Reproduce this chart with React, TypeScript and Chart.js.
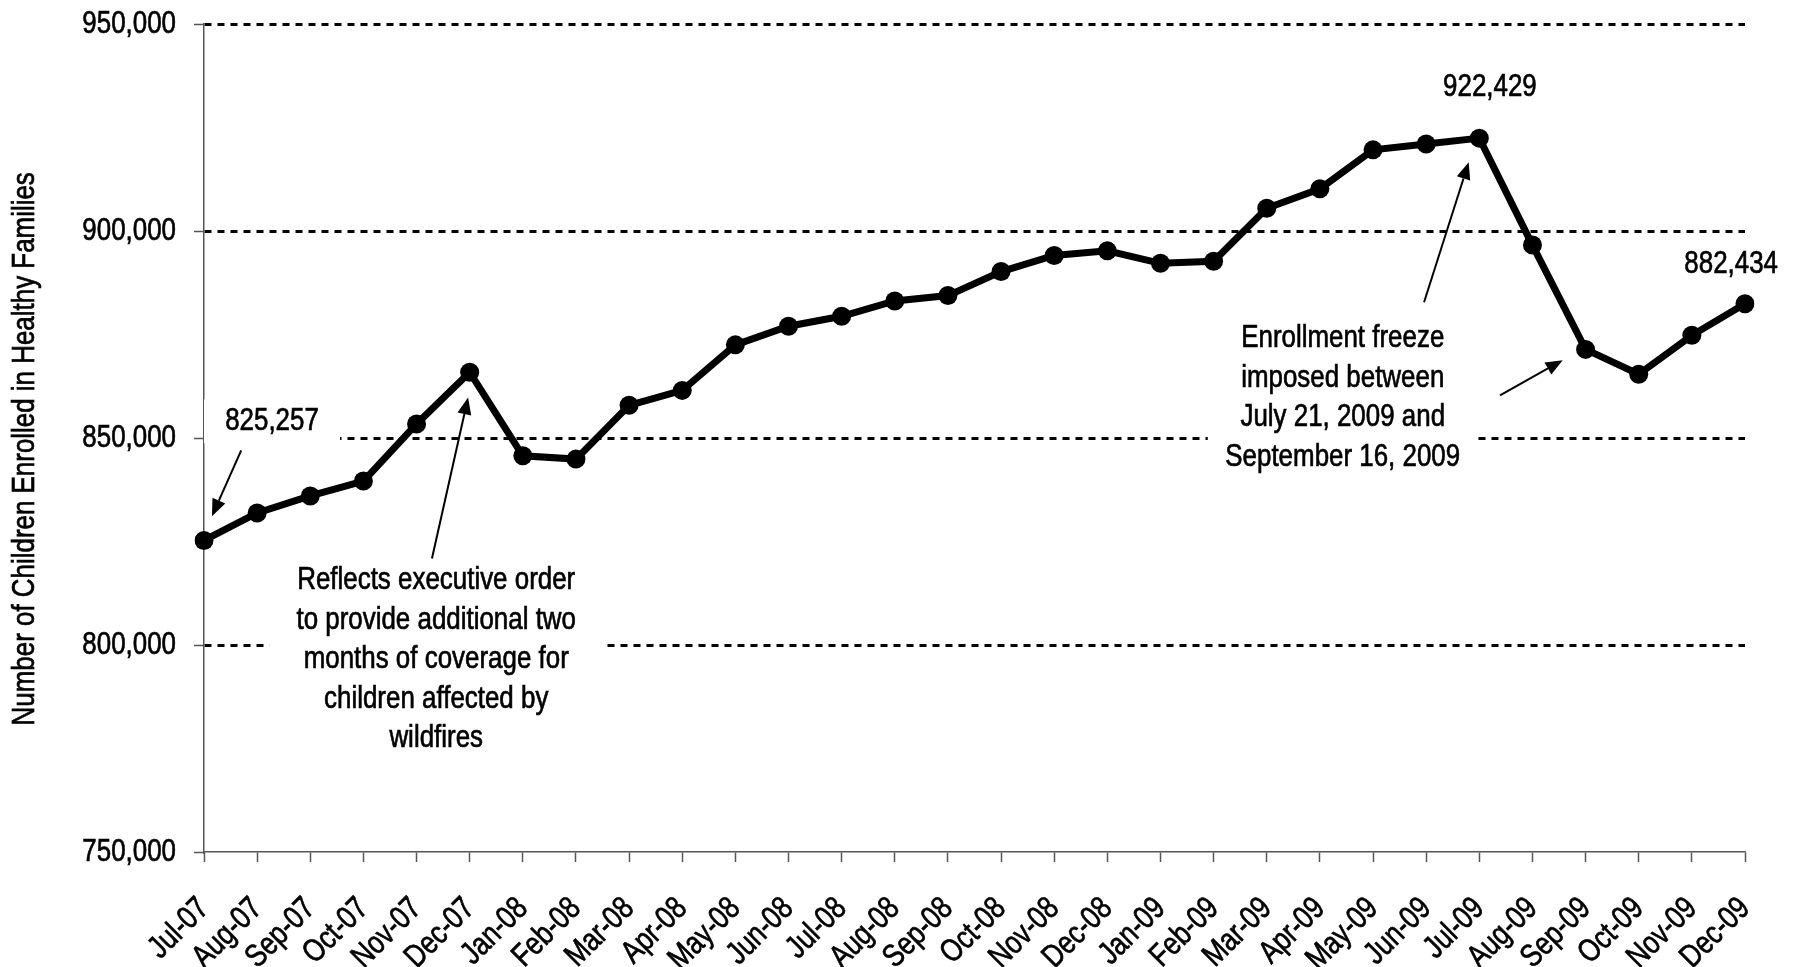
import React, { useEffect, useRef } from "react";
import { Chart, registerables } from "chart.js";

Chart.register(...registerables);

const months: string[] = [
  "Jul-07", "Aug-07", "Sep-07", "Oct-07", "Nov-07", "Dec-07",
  "Jan-08", "Feb-08", "Mar-08", "Apr-08", "May-08", "Jun-08",
  "Jul-08", "Aug-08", "Sep-08", "Oct-08", "Nov-08", "Dec-08",
  "Jan-09", "Feb-09", "Mar-09", "Apr-09", "May-09", "Jun-09",
  "Jul-09", "Aug-09", "Sep-09", "Oct-09", "Nov-09", "Dec-09",
];

const enrollment: number[] = [
  825257, 831900, 836000, 839600, 853400, 865900,
  845700, 844900, 857900, 861500, 872500, 877000,
  879400, 883100, 884400, 890200, 894100, 895200,
  892200, 892700, 905500, 910200, 919600, 921000,
  922429, 896600, 871400, 865400, 874800, 882434,
];

const yTicks: number[] = [750000, 800000, 850000, 900000, 950000];
const yTitle = "Number of Children Enrolled in Healthy Families   ";

// annotation texts, anchored in data space (category index, value)
const valueLabels = [
  { text: "825,257", idx: 1.28, value: 854000, boxW: 136 },
  { text: "922,429", idx: 24.2, value: 934800, boxW: 0 },
  { text: "882,434", idx: 28.74, value: 892000, boxW: 0 },
];

const noteBlocks = [
  {
    lines: [
      "Reflects executive order",
      "to provide additional two",
      "months of coverage for",
      "children affected by",
      "wildfires",
    ],
    idx: 4.37,
    value: 815600,
    boxW: 334,
  },
  {
    lines: [
      "Enrollment freeze",
      "imposed between",
      "July 21, 2009 and",
      "September 16, 2009",
    ],
    idx: 21.43,
    value: 874100,
    boxW: 270,
  },
];

const arrows = [
  { fromIdx: 0.7, fromValue: 847000, toIdx: 0.15, toValue: 831100 },
  { fromIdx: 4.29, fromValue: 820900, toIdx: 4.97, toValue: 859800 },
  { fromIdx: 22.96, fromValue: 882800, toIdx: 23.8, toValue: 916600 },
  { fromIdx: 24.39, fromValue: 860300, toIdx: 25.57, toValue: 868800 },
];

const FONT = "'Liberation Sans', Arial, sans-serif";
const NARROW = 0.81; // horizontal condensing of all text
const TEXT_SIZE = 32;
const LINE_H = 39.5;

const annotationPlugin = {
  id: "notes",
  beforeDatasetsDraw(chart: any) {
    const { ctx, scales } = chart;
    const xs = scales.x;
    const ys = scales.y;
    const px = (i: number) => xs.left + (xs.right - xs.left) * (i / (months.length - 1));
    ctx.save();
    ctx.font = `${TEXT_SIZE}px ${FONT}`;
    ctx.textAlign = "center";
    ctx.textBaseline = "middle";

    // white boxes behind text blocks (hide grid lines)
    for (const b of noteBlocks) {
      const cx = px(b.idx);
      const y0 = ys.getPixelForValue(b.value);
      ctx.fillStyle = "#fff";
      ctx.fillRect(cx - b.boxW / 2, y0 - LINE_H / 2 - 4, b.boxW, LINE_H * b.lines.length + 8);
    }
    for (const l of valueLabels) {
      if (!l.boxW) continue;
      const cx = px(l.idx);
      const cy = ys.getPixelForValue(l.value);
      ctx.fillStyle = "#fff";
      ctx.fillRect(cx - l.boxW / 2, cy - 22, l.boxW, 44);
    }

    ctx.fillStyle = "#000";
    for (const b of noteBlocks) {
      const cx = px(b.idx);
      const y0 = ys.getPixelForValue(b.value);
      b.lines.forEach((t, i) => ctx.fillText(t, cx, y0 + i * LINE_H));
    }
    for (const l of valueLabels) {
      ctx.fillText(l.text, px(l.idx), ys.getPixelForValue(l.value));
    }

    // arrows
    ctx.strokeStyle = "#000";
    ctx.lineWidth = 2;
    for (const a of arrows) {
      const x1 = px(a.fromIdx);
      const y1 = ys.getPixelForValue(a.fromValue);
      const x2 = px(a.toIdx);
      const y2 = ys.getPixelForValue(a.toValue);
      const ang = Math.atan2(y2 - y1, x2 - x1);
      const headLen = 17;
      const headW = 7;
      const bx = x2 - headLen * Math.cos(ang);
      const by = y2 - headLen * Math.sin(ang);
      ctx.beginPath();
      ctx.moveTo(x1, y1);
      ctx.lineTo(bx, by);
      ctx.stroke();
      ctx.beginPath();
      ctx.moveTo(x2, y2);
      ctx.lineTo(bx + headW * Math.sin(ang), by - headW * Math.cos(ang));
      ctx.lineTo(bx - headW * Math.sin(ang), by + headW * Math.cos(ang));
      ctx.closePath();
      ctx.fill();
    }
    ctx.restore();
  },
};

export default function App() {
  const ref = useRef<HTMLCanvasElement | null>(null);

  useEffect(() => {
    const canvas = ref.current;
    if (!canvas) return;
    const c2d = canvas.getContext("2d") as any;
    const origFill = c2d.fillText;
    const origStroke = c2d.strokeText;
    // draw every text condensed horizontally (Helvetica Condensed-like look)
    c2d.fillText = function (text: string, x: number, y: number) {
      this.save();
      this.translate(x, y);
      this.scale(NARROW, 1);
      origFill.call(this, text, 0, 0);
      this.strokeStyle = this.fillStyle;
      this.lineWidth = 0.7;
      this.setLineDash([]);
      origStroke.call(this, text, 0, 0);
      this.restore();
    };
    Chart.defaults.font.family = FONT;
    Chart.defaults.color = "#000";
    const chart = new Chart(canvas, {
      type: "line",
      data: {
        labels: months,
        datasets: [
          {
            data: enrollment,
            borderColor: "#000",
            backgroundColor: "#000",
            borderWidth: 7,
            pointRadius: 9.5,
            pointBackgroundColor: "#000",
            pointBorderWidth: 0,
            tension: 0,
          },
        ],
      },
      options: {
        responsive: false,
        animation: false,
        devicePixelRatio: 1,
        layout: { padding: { left: 0, top: 24, right: 54, bottom: 0 } },
        plugins: {
          legend: { display: false },
          tooltip: { enabled: false },
        },
        scales: {
          x: {
            type: "category",
            offset: false,
            grid: {
              drawOnChartArea: false,
              drawTicks: true,
              tickLength: 10,
              tickColor: "#555",
              tickWidth: 1.5,
            },
            border: { display: true, color: "#555", width: 1.5 },
            ticks: {
              minRotation: 45,
              maxRotation: 45,
              autoSkip: false,
              padding: 28,
              font: { size: 32 },
              color: "#000",
            },
            afterFit: (s: any) => {
              s.height = 115;
              s.paddingLeft = 0;
              s.paddingRight = 0;
            },
          },
          y: {
            min: 750000,
            max: 950000,
            afterBuildTicks: (s: any) => {
              s.ticks = yTicks.map((v) => ({ value: v }));
            },
            grid: {
              color: (c: any) => (c.tick && c.tick.value === 750000 ? "rgba(0,0,0,0)" : "#000"),
              lineWidth: 3,
              borderDash: [7, 6],
              drawTicks: true,
              tickLength: 10,
              tickColor: "#555",
              tickWidth: 1.5,
              tickBorderDash: [],
            },
            border: { display: true, color: "#555", width: 1.5, dash: [7, 6] },
            ticks: {
              padding: 18,
              font: { size: 32 },
              color: "#000",
              callback: (v: any) => Number(v).toLocaleString("en-US"),
            },
            title: {
              display: true,
              text: yTitle,
              font: { size: 32 },
              color: "#000",
              padding: { top: 6, bottom: 0 },
            },
            afterFit: (s: any) => {
              s.width = 204;
              s.paddingTop = 0;
              s.paddingBottom = 0;
            },
          },
        },
      },
      plugins: [annotationPlugin],
    });
    return () => {
      chart.destroy();
      c2d.fillText = origFill;
    };
  }, []);

  return (
    <div style={{ position: "fixed", left: 0, top: 0, width: 1799, height: 967, background: "#fff" }}>
      <canvas ref={ref} width={1799} height={967} style={{ display: "block" }} />
    </div>
  );
}
